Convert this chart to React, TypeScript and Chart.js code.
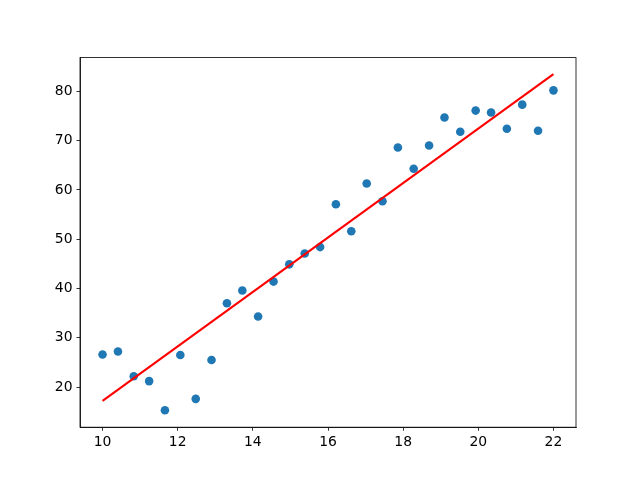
import React, { useEffect, useRef } from "react";
import { Chart, registerables } from "chart.js";

Chart.register(...registerables);

const xValues = [10, 10.41, 10.83, 11.24, 11.66, 12.07, 12.48, 12.9, 13.31, 13.72, 14.14, 14.55, 14.97, 15.38, 15.79, 16.21, 16.62, 17.03, 17.45, 17.86, 18.28, 18.69, 19.1, 19.52, 19.93, 20.34, 20.76, 21.17, 21.59, 22];
const yValues = [26.6, 27.2, 22.2, 21.2, 15.3, 26.5, 17.6, 25.5, 37.0, 39.6, 34.3, 41.4, 44.9, 47.1, 48.4, 57.1, 51.6, 61.3, 57.7, 68.6, 64.3, 69.0, 74.7, 71.8, 76.1, 75.7, 72.4, 77.3, 72.0, 80.2];
const fitX = [10, 22];
const fitY = [17.2, 83.5];
const xTicks = [10, 12, 14, 16, 18, 20, 22];
const yTicks = [20, 30, 40, 50, 60, 70, 80];

const FONT = { family: "DejaVu Sans", size: 13.9 };

const boxPlugin = {
  id: "box",
  afterDraw(chart: any) {
    const { ctx, chartArea } = chart;
    ctx.save();
    ctx.strokeStyle = "#000";
    ctx.lineWidth = 0.8;
    ctx.strokeRect(chartArea.left, chartArea.top, chartArea.right - chartArea.left, chartArea.bottom - chartArea.top);
    ctx.restore();
  },
};

export default function App() {
  const ref = useRef<HTMLCanvasElement>(null);
  useEffect(() => {
    if (!ref.current) return;
    const chart = new Chart(ref.current, {
      type: "scatter",
      data: {
        datasets: [
          {
            type: "line",
            data: fitX.map((x, i) => ({ x, y: fitY[i] })),
            borderColor: "#ff0000",
            borderWidth: 2.1,
            pointRadius: 0,
            fill: false,
            order: 0,
          } as any,
          {
            type: "scatter",
            data: xValues.map((x, i) => ({ x, y: yValues[i] })),
            backgroundColor: "#1f77b4",
            borderColor: "#1f77b4",
            borderWidth: 0,
            pointRadius: 4.3,
            order: 1,
          },
        ],
      },
      plugins: [boxPlugin],
      options: {
        responsive: false,
        animation: false,
        layout: { padding: { left: 0, right: 64, top: 57.6, bottom: 0 } },
        plugins: { legend: { display: false }, tooltip: { enabled: false } },
        scales: {
          x: {
            type: "linear",
            min: 9.4,
            max: 22.6,
            afterBuildTicks: (s: any) => {
              s.ticks = xTicks.map((v) => ({ value: v }));
            },
            afterFit: (s: any) => {
              s.height = 52.8;
            },
            grid: { display: true, drawOnChartArea: false, drawTicks: true, tickLength: 3.5, color: "#000", lineWidth: 0.8 },
            border: { display: true, color: "#000", width: 0.8 },
            ticks: { color: "#000", font: FONT, padding: 3, maxRotation: 0, callback: (v: any) => String(v) },
          },
          y: {
            type: "linear",
            min: 11.85,
            max: 86.85,
            afterBuildTicks: (s: any) => {
              s.ticks = yTicks.map((v) => ({ value: v }));
            },
            afterFit: (s: any) => {
              s.width = 80;
            },
            grid: { display: true, drawOnChartArea: false, drawTicks: true, tickLength: 3.5, color: "#000", lineWidth: 0.8 },
            border: { display: true, color: "#000", width: 0.8 },
            ticks: { color: "#000", font: FONT, padding: 4, callback: (v: any) => String(v) },
          },
        },
      },
    });
    return () => chart.destroy();
  }, []);
  return (
    <div style={{ position: "absolute", left: 0, top: 0, width: 640, height: 480, background: "#fff" }}>
      <canvas ref={ref} width={640} height={480} />
    </div>
  );
}
